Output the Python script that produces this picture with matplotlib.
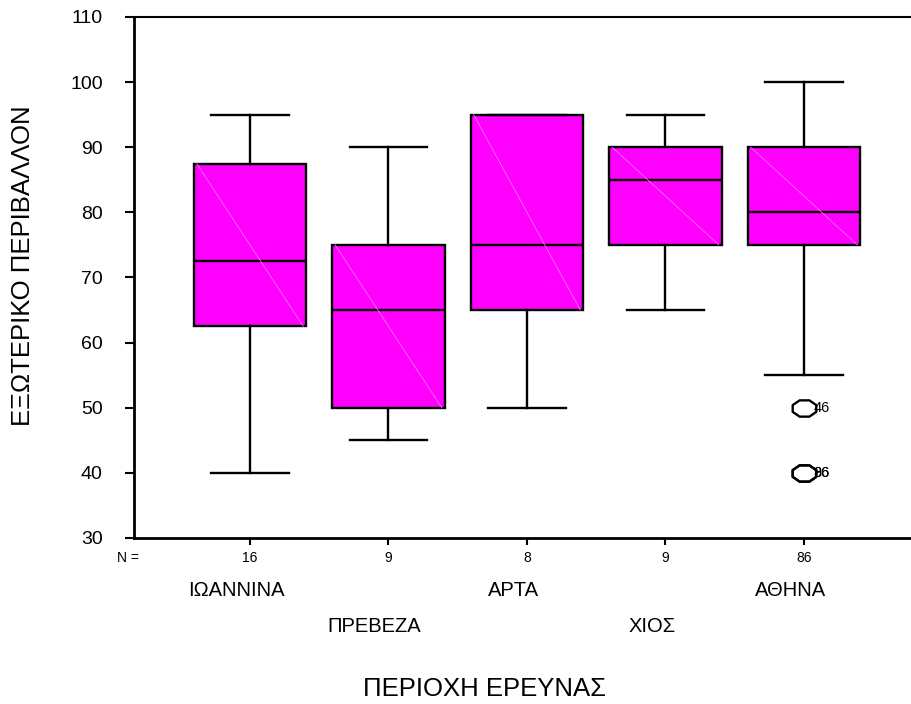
import numpy as np
import matplotlib
matplotlib.use("Agg")
import matplotlib.pyplot as plt
from matplotlib.path import Path

plt.rcParams['font.family'] = ['Liberation Sans', 'DejaVu Sans']

# box statistics
regions = ["ΙΩΑΝΝΙΝΑ", "ΠΡΕΒΕΖΑ", "ΑΡΤΑ", "ΧΙΟΣ", "ΑΘΗΝΑ"]
n_counts = [16, 9, 8, 9, 86]
q1 = [62.5, 50, 65, 75, 75]
medians = [72.5, 65, 75, 85, 80]
q3 = [87.5, 75, 95, 90, 90]
whis_lo = [40, 45, 50, 65, 55]
whis_hi = [95, 90, 95, 95, 100]
fliers = [[], [], [], [], [50, 40, 40]]
flier_ids = [[], [], [], [], ["46", "86", "96"]]

positions = np.arange(1, len(regions) + 1)
box_w = 0.81

stats = []
for i in range(len(regions)):
    stats.append({"med": medians[i], "q1": q1[i], "q3": q3[i],
                  "whislo": whis_lo[i], "whishi": whis_hi[i],
                  "fliers": fliers[i]})

# stretched octagon for the outlier marks
ang = np.deg2rad(22.5 + 45 * np.arange(8))
verts = np.column_stack([1.45 * np.cos(ang), np.sin(ang)])
verts = np.vstack([verts, verts[0]])
octo = Path(verts, closed=True)

fig = plt.figure(figsize=(9.12, 7.04), dpi=100)
ax = fig.add_axes([134 / 912, 1 - 538 / 704, 1 - 134 / 912, (538 - 17) / 704])

ax.bxp(stats, positions=positions, widths=box_w, patch_artist=True,
       showfliers=True,
       boxprops=dict(facecolor="#ff00ff", edgecolor="black", linewidth=1.7),
       medianprops=dict(color="black", linewidth=1.7),
       whiskerprops=dict(color="black", linewidth=1.7),
       capprops=dict(color="black", linewidth=1.7),
       capwidths=0.56,
       flierprops=dict(marker=octo, markersize=17, markerfacecolor="none",
                       markeredgecolor="black", markeredgewidth=1.7))

# faint diagonal inside each box
for i, p in enumerate(positions):
    ax.plot([p - box_w / 2 + 0.02, p + box_w / 2 - 0.02], [q3[i], q1[i]],
            color="#ff70ff", linewidth=0.6, zorder=2.5)

# outlier case numbers
for i, p in enumerate(positions):
    for val, lab in zip(fliers[i], flier_ids[i]):
        ax.annotate(lab, (p, val), xytext=(7, 0), textcoords="offset points",
                    fontsize=10.5, va="center", ha="left")

ax.set_xlim(1 - 116 / 138.5, 1 + 662 / 138.5)
ax.set_ylim(30, 110)
ax.set_yticks(np.arange(30, 111, 10))
ax.set_xticks(positions)
ax.set_xticklabels([])
ax.tick_params(axis="y", direction="out", length=6.5, width=1.5, pad=16,
               labelsize=14)
ax.tick_params(axis="x", direction="out", length=5, width=1.5)
ax.spines["right"].set_visible(False)
ax.spines["left"].set_linewidth(2)
ax.spines["bottom"].set_linewidth(2)
ax.spines["top"].set_linewidth(1.5)

# N counts and alternating region names below the axis
for i, p in enumerate(positions):
    ax.annotate(str(n_counts[i]), (p, 0), xycoords=("data", "axes fraction"),
                xytext=(0, -14.5), textcoords="offset points",
                ha="center", va="center", fontsize=10)
    dy = -37.5 if i % 2 == 0 else -64
    ax.annotate(regions[i], (p, 0), xycoords=("data", "axes fraction"),
                xytext=(-10, dy), textcoords="offset points",
                ha="center", va="center", fontsize=14.5)
ax.annotate("N =", (0, 0), xycoords="axes fraction", xytext=(-4.5, -14.5),
            textcoords="offset points", ha="center", va="center", fontsize=10)

fig.text(485 / 912, 1 - 689 / 704, "ΠΕΡΙΟΧΗ ΕΡΕΥΝΑΣ", ha="center",
         va="center", fontsize=18.5)
fig.text(23 / 912, 1 - 266 / 704, "ΕΞΩΤΕΡΙΚΟ ΠΕΡΙΒΑΛΛΟΝ", ha="center",
         va="center", rotation=90, fontsize=18.5)

fig.savefig("out.png", dpi=100)
